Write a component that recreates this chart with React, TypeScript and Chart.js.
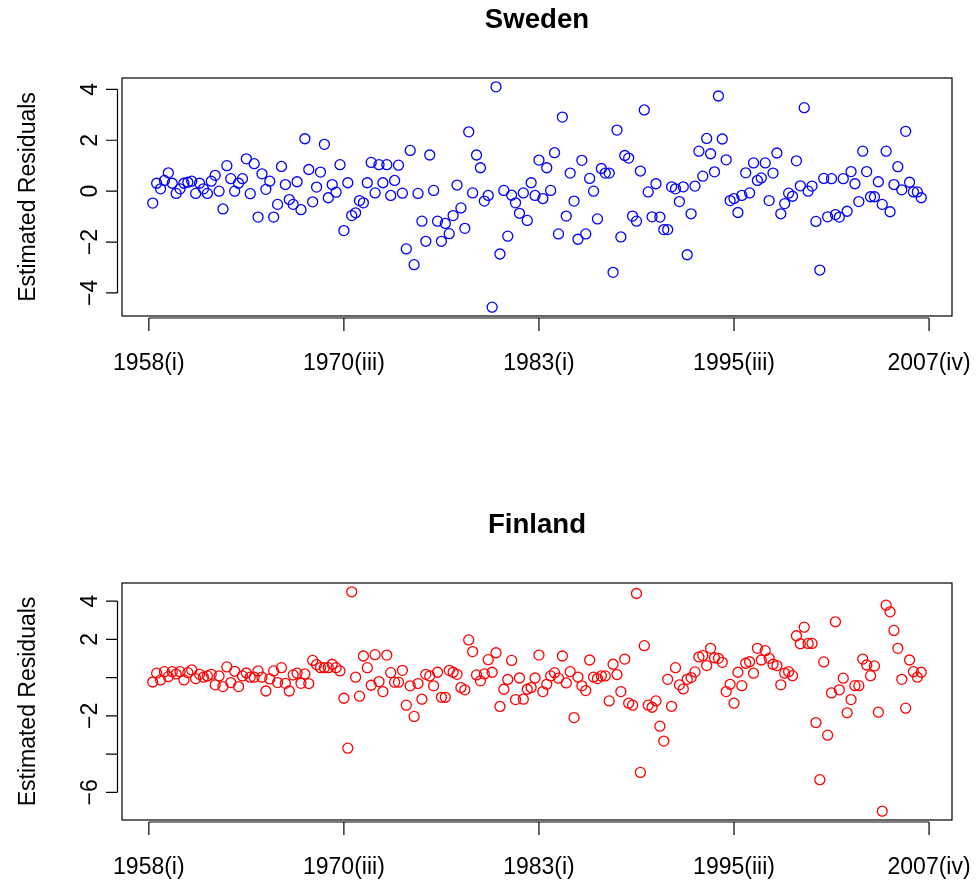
import React, { useEffect, useRef } from "react";
import { Chart, registerables } from "chart.js";

Chart.register(...registerables);

// ---- data ----
const quarterTickPositions = [0, 50, 100, 150, 200];
const quarterTickLabels = ["1958(i)", "1970(iii)", "1983(i)", "1995(iii)", "2007(iv)"];

const swedenResiduals = [
  -0.47, 0.31, 0.09, 0.42, 0.72, 0.31, -0.09, 0.09, 0.31, 0.35,
  0.39, -0.09, 0.31, 0.09, -0.09, 0.39, 0.62, 0.0, -0.7, 1.0,
  0.49, 0.0, 0.31, 0.49, 1.27, -0.1, 1.08, -1.02, 0.68, 0.07,
  0.39, -1.02, -0.52, 0.97, 0.26, -0.33, -0.52, 0.37, -0.73, 2.06,
  0.85, -0.42, 0.16, 0.75, 1.84, -0.26, 0.26, -0.04, 1.04, -1.55,
  0.33, -0.96, -0.85, -0.37, -0.46, 0.33, 1.13, -0.07, 1.04, 0.33,
  1.04, -0.17, 0.42, 1.02, -0.08, -2.27, 1.6, -2.89, -0.09, -1.18,
  -1.97, 1.42, 0.03, -1.18, -1.97, -1.27, -1.67, -0.96, 0.24, -0.66,
  -1.46, 2.33, -0.07, 1.42, 0.92, -0.39, -0.17, -4.56, 4.1, -2.47,
  0.03, -1.77, -0.16, -0.46, -0.87, -0.07, -1.15, 0.33, -0.17, 1.22,
  -0.29, 0.92, 0.03, 1.51, -1.68, 2.91, -0.98, 0.71, -0.39, -1.89,
  1.21, -1.68, 0.5, 0.0, -1.09, 0.89, 0.71, 0.71, -3.19, 2.4,
  -1.8, 1.4, 1.3, -0.98, -1.18, 0.79, 3.19, -0.03, -1.01, 0.29,
  -1.02, -1.51, -1.51, 0.17, 0.09, -0.41, 0.17, -2.5, -0.89, 0.2,
  1.57, 0.59, 2.07, 1.47, 0.76, 3.74, 2.05, 1.23, -0.37, -0.29,
  -0.84, -0.17, 0.72, -0.07, 1.11, 0.42, 0.52, 1.11, -0.37, 0.71,
  1.5, -0.89, -0.49, -0.08, -0.2, 1.19, 0.21, 3.28, 0.0, 0.2,
  -1.19, -3.1, 0.5, -1.01, 0.49, -0.92, -1.02, 0.49, -0.79, 0.77,
  0.29, -0.41, 1.57, 0.77, -0.22, -0.22, 0.37, -0.52, 1.57, -0.81,
  0.26, 0.96, 0.05, 2.35, 0.35, -0.03, -0.03, -0.26,
];

const finlandResiduals = [
  -0.23, 0.23, -0.12, 0.31, 0.05, 0.31, 0.19, 0.31, -0.12, 0.26,
  0.4, -0.05, 0.17, 0.02, 0.09, 0.17, -0.38, 0.09, -0.47, 0.56,
  -0.26, 0.33, -0.47, 0.09, 0.24, 0.02, 0.02, 0.35, 0.02, -0.7,
  -0.07, 0.35, -0.26, 0.52, -0.3, -0.7, 0.14, 0.23, -0.3, 0.19,
  -0.31, 0.9, 0.68, 0.52, 0.52, 0.52, 0.7, 0.52, 0.35, -1.08,
  -3.69, 4.49, 0.02, -0.97, 1.13, 0.52, -0.4, 1.2, -0.21, -0.73,
  1.18, 0.26, -0.24, -0.24, 0.38, -1.44, -0.43, -2.03, -0.31, -1.13,
  0.17, 0.09, -0.43, 0.28, -1.03, -1.03, 0.38, 0.28, 0.17, -0.52,
  -0.64, 1.97, 1.36, 0.14, -0.17, 0.19, 0.94, 0.28, 1.3, -1.51,
  -0.61, -0.1, 0.9, -1.15, -0.02, -1.13, -0.61, -0.52, -0.02, 1.18,
  -0.73, -0.35, 0.09, 0.26, -0.03, 1.13, -0.28, 0.31, -2.09, 0.03,
  -0.43, -0.68, 0.92, 0.03, -0.05, 0.09, 0.09, -1.22, 0.7, 0.16,
  -0.73, 0.97, -1.34, -1.44, 4.4, -4.96, 1.67, -1.44, -1.55, -1.22,
  -2.54, -3.32, -0.09, -1.5, 0.52, -0.38, -0.59, -0.09, 0.0, 0.3,
  1.08, 1.15, 0.63, 1.53, 1.04, 1.01, 0.8, -0.73, -0.35, -1.34,
  0.28, -0.42, 0.75, 0.83, 0.23, 1.53, 0.92, 1.41, 1.01, 0.7,
  0.63, -0.38, 0.23, 0.31, 0.1, 2.19, 1.77, 2.64, 1.79, 1.79,
  -2.35, -5.34, 0.82, -3.01, -0.8, 2.92, -0.64, -0.03, -1.84, -1.15,
  -0.42, -0.42, 0.97, 0.66, 0.1, 0.61, -1.81, -6.99, 3.79, 3.44,
  2.47, 1.53, -0.09, -1.6, 0.92, 0.31, 0.02, 0.28,
];

const swedenYTicks = [4, 2, 0, -2, -4];
const swedenYTickLabels = ["4", "2", "0", "\u22122", "\u22124"];
const finlandYTicks = [4, 2, 0, -2, -4, -6];
const finlandYTickLabels = ["4", "2", "", "\u22122", "", "\u22126"];

const yAxisTitle = "Estimated Residuals";

// ---- helpers ----
const FONT = '"Liberation Sans", Arial, Helvetica, sans-serif';

function rRange(min: number, max: number): [number, number] {
  const d = (max - min) * 0.04;
  return [min - d, max + d];
}

function makeAxesPlugin(title: string, yTicks: number[], yLabels: string[]) {
  return {
    id: "rStyleAxes",
    afterDraw(chart: any) {
      const { ctx, chartArea: a, scales } = chart;
      const xs = scales.x;
      const ys = scales.y;
      ctx.save();
      ctx.strokeStyle = "#000";
      ctx.fillStyle = "#000";
      ctx.lineWidth = 1.2;

      // box
      ctx.strokeRect(a.left, a.top, a.right - a.left, a.bottom - a.top);

      // x axis
      const xAxisY = a.bottom + 2;
      const xFirst = xs.getPixelForValue(quarterTickPositions[0]);
      const xLast = xs.getPixelForValue(quarterTickPositions[quarterTickPositions.length - 1]);
      ctx.beginPath();
      ctx.moveTo(xFirst, xAxisY);
      ctx.lineTo(xLast, xAxisY);
      quarterTickPositions.forEach((v) => {
        const px = xs.getPixelForValue(v);
        ctx.moveTo(px, xAxisY);
        ctx.lineTo(px, a.bottom + 15);
      });
      ctx.stroke();
      ctx.font = `23px ${FONT}`;
      ctx.textAlign = "center";
      ctx.textBaseline = "alphabetic";
      quarterTickPositions.forEach((v, i) => {
        ctx.fillText(quarterTickLabels[i], xs.getPixelForValue(v), a.bottom + 54);
      });

      // y axis
      const yAxisX = a.left - 4.5;
      const yFirst = ys.getPixelForValue(yTicks[0]);
      const yLast = ys.getPixelForValue(yTicks[yTicks.length - 1]);
      ctx.beginPath();
      ctx.moveTo(yAxisX, yFirst);
      ctx.lineTo(yAxisX, yLast);
      yTicks.forEach((v) => {
        const py = ys.getPixelForValue(v);
        ctx.moveTo(yAxisX, py);
        ctx.lineTo(a.left - 16, py);
      });
      ctx.stroke();
      yTicks.forEach((v, i) => {
        if (!yLabels[i]) return;
        const py = ys.getPixelForValue(v);
        ctx.save();
        ctx.translate(a.left - 25.5, py);
        ctx.rotate(-Math.PI / 2);
        ctx.fillText(yLabels[i], 0, 0);
        ctx.restore();
      });

      // y title
      ctx.save();
      ctx.translate(a.left - 87.5, (a.top + a.bottom) / 2);
      ctx.rotate(-Math.PI / 2);
      ctx.font = `23px ${FONT}`;
      ctx.fillText(yAxisTitle, 0, 0);
      ctx.restore();

      // title
      ctx.font = `bold 27.6px ${FONT}`;
      ctx.textAlign = "center";
      ctx.fillText(title, (a.left + a.right) / 2, a.top - 50);

      ctx.restore();
    },
  };
}

function ResidualPanel(props: {
  title: string;
  values: number[];
  color: string;
  yTicks: number[];
  yLabels: string[];
  height: number;
  padTop: number;
  padBottom: number;
}) {
  const ref = useRef<HTMLCanvasElement | null>(null);
  useEffect(() => {
    if (!ref.current) return;
    const pts = props.values.map((v, i) => ({ x: i + 1, y: v }));
    const [xMin, xMax] = rRange(1, props.values.length);
    const [yMin, yMax] = rRange(Math.min(...props.values), Math.max(...props.values));
    const chart = new Chart(ref.current, {
      type: "scatter",
      data: {
        datasets: [
          {
            data: pts,
            pointStyle: "circle",
            pointRadius: 5,
            pointHoverRadius: 5,
            borderWidth: 1.3,
            borderColor: props.color,
            backgroundColor: "rgba(0,0,0,0)",
            showLine: false,
          },
        ],
      },
      options: {
        responsive: false,
        animation: false,
        events: [],
        layout: { padding: { left: 122, right: 24, top: props.padTop, bottom: props.padBottom } },
        scales: {
          x: { type: "linear", min: xMin, max: xMax, display: false },
          y: { type: "linear", min: yMin, max: yMax, display: false },
        },
        plugins: { legend: { display: false }, tooltip: { enabled: false }, title: { display: false } },
      },
      plugins: [makeAxesPlugin(props.title, props.yTicks, props.yLabels)],
    } as any);
    return () => chart.destroy();
  }, []);
  return (
    <canvas
      ref={ref}
      width={976}
      height={props.height}
      style={{ display: "block", width: 976, height: props.height }}
    />
  );
}

export default function App() {
  return (
    <div style={{ position: "absolute", left: 0, top: 0, width: 976, height: 881, background: "#fff" }}>
      <ResidualPanel
        title="Sweden"
        values={swedenResiduals}
        color="#0000FF"
        yTicks={swedenYTicks}
        yLabels={swedenYTickLabels}
        height={440}
        padTop={78}
        padBottom={124}
      />
      <ResidualPanel
        title="Finland"
        values={finlandResiduals}
        color="#FF0000"
        yTicks={finlandYTicks}
        yLabels={finlandYTickLabels}
        height={441}
        padTop={143}
        padBottom={61}
      />
    </div>
  );
}
